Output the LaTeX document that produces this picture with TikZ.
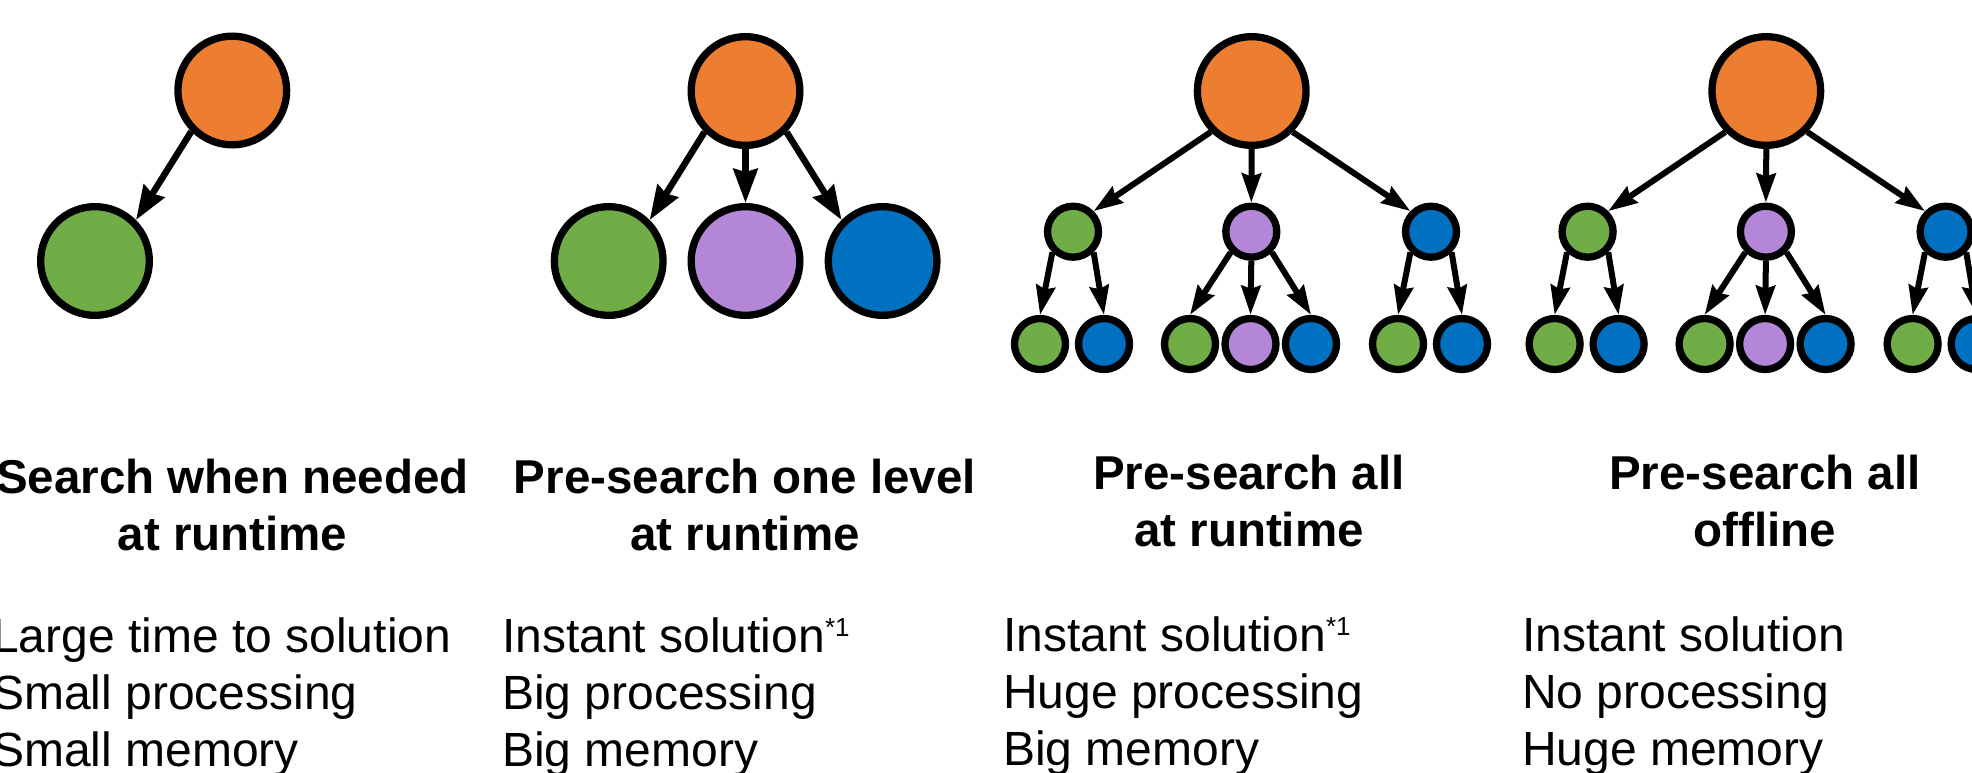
\documentclass[tikz,border=0pt]{standalone}
\usepackage{fontspec}
\setmainfont{Liberation Sans}
\usetikzlibrary{arrows.meta}

\definecolor{cOrange}{RGB}{237,125,49}
\definecolor{cGreen}{RGB}{112,173,71}
\definecolor{cPurple}{RGB}{180,134,216}
\definecolor{cBlue}{RGB}{0,112,192}

\newcommand{\footmark}{\raisebox{16pt}{\fontsize{26}{26}\selectfont *1}}

\begin{document}
\begin{tikzpicture}[
  x=1pt, y=-1pt,
  bigball/.style={circle, draw=black, line width=7.3pt, minimum size=108.7pt, inner sep=0pt},
  smallball/.style={circle, draw=black, line width=7.3pt, minimum size=51pt, inner sep=0pt},
  biglink/.style={line width=6.5pt, -{Stealth[length=34pt, width=24pt, inset=3pt]}},
  smalllink/.style={line width=6pt, -{Stealth[length=29pt, width=19pt, inset=3pt]}},
  headline/.style={font=\fontsize{47.5}{57}\selectfont\bfseries, anchor=base, inner sep=0pt},
  textline/.style={font=\fontsize{48}{57}\selectfont, anchor=base west, inner sep=0pt},
]
\useasboundingbox (0,0) rectangle (1972,773);
\fill[white] (0,0) rectangle (1972,773);
\clip (0,0) rectangle (1972,773);

% ---- Strategy 1: search when needed
\node[bigball, fill=cOrange] (a-root) at (232.3,90.5) {};
\node[bigball, fill=cGreen]  (a-g)    at (95,261) {};
\draw[biglink] (a-root.south west) -- (a-g.north east);

% ---- Strategy 2: pre-search one level
\node[bigball, fill=cOrange] (b-root) at (745.5,91) {};
\node[bigball, fill=cGreen]  (b-g)    at (608.7,261) {};
\node[bigball, fill=cPurple] (b-v)    at (745.5,261) {};
\node[bigball, fill=cBlue]   (b-b)    at (882.6,261) {};
\draw[biglink] (b-root.south west) -- (b-g.north east);
\draw[biglink] (b-root.south) -- (b-v.north);
\draw[biglink] (b-root.south east) -- (b-b.north west);

% ---- Strategies 3 and 4: full two-level trees
\foreach \p/\dx in {c/0, d/514.6} {
  \begin{scope}[xshift=\dx pt]
    \node[bigball, fill=cOrange]   (\p-root) at (1251.7,91) {};
    \node[smallball, fill=cGreen]  (\p-g)  at (1073,231.7) {};
    \node[smallball, fill=cPurple] (\p-v)  at (1251.3,231.7) {};
    \node[smallball, fill=cBlue]   (\p-b)  at (1431,231.7) {};
    \node[smallball, fill=cGreen]  (\p-gg) at (1040,344) {};
    \node[smallball, fill=cBlue]   (\p-gb) at (1104,344) {};
    \node[smallball, fill=cGreen]  (\p-vg) at (1190,344) {};
    \node[smallball, fill=cPurple] (\p-vv) at (1250.5,344) {};
    \node[smallball, fill=cBlue]   (\p-vb) at (1311,344) {};
    \node[smallball, fill=cGreen]  (\p-bg) at (1398,344) {};
    \node[smallball, fill=cBlue]   (\p-bb) at (1462,344) {};
    \draw[smalllink] (\p-root.south west) -- (\p-g.north east);
    \draw[smalllink] (\p-root.south) -- (\p-v.north);
    \draw[smalllink] (\p-root.south east) -- (\p-b.north west);
    \draw[smalllink] (\p-g.south west) -- (\p-gg.north);
    \draw[smalllink] (\p-g.south east) -- (\p-gb.north);
    \draw[smalllink] (\p-v.south west) -- (\p-vg.north);
    \draw[smalllink] (\p-v.south) -- (\p-vv.north);
    \draw[smalllink] (\p-v.south east) -- (\p-vb.north);
    \draw[smalllink] (\p-b.south west) -- (\p-bg.north);
    \draw[smalllink] (\p-b.south east) -- (\p-bb.north);
  \end{scope}
}

% ---- Headings
\node[headline] (a-h1) at (232.5,493) {Search when needed};
\node[headline] (a-h2) at (232.5,550) {at runtime};
\node[headline] (b-h1) at (745,493) {Pre-search one level};
\node[headline] (b-h2) at (745,550) {at runtime};
\node[headline] (c-h1) at (1249,489) {Pre-search all};
\node[headline] (c-h2) at (1249,546) {at runtime};
\node[headline] (d-h1) at (1765,489) {Pre-search all};
\node[headline] (d-h2) at (1765,546) {offline};

% ---- Properties
\node[textline] (a-t1) at (-8,652) {Large time to solution};
\node[textline] (a-t2) at (-8,709) {Small processing};
\node[textline] (a-t3) at (-8,766) {Small memory};
\node[textline] (b-t1) at (502,652) {Instant solution\footmark};
\node[textline] (b-t2) at (502,709) {Big processing};
\node[textline] (b-t3) at (502,766) {Big memory};
\node[textline] (c-t1) at (1003,651) {Instant solution\footmark};
\node[textline] (c-t2) at (1003,708) {Huge processing};
\node[textline] (c-t3) at (1003,765) {Big memory};
\node[textline] (d-t1) at (1522,651) {Instant solution};
\node[textline] (d-t2) at (1522,708) {No processing};
\node[textline] (d-t3) at (1522,765) {Huge memory};
\end{tikzpicture}
\end{document}
